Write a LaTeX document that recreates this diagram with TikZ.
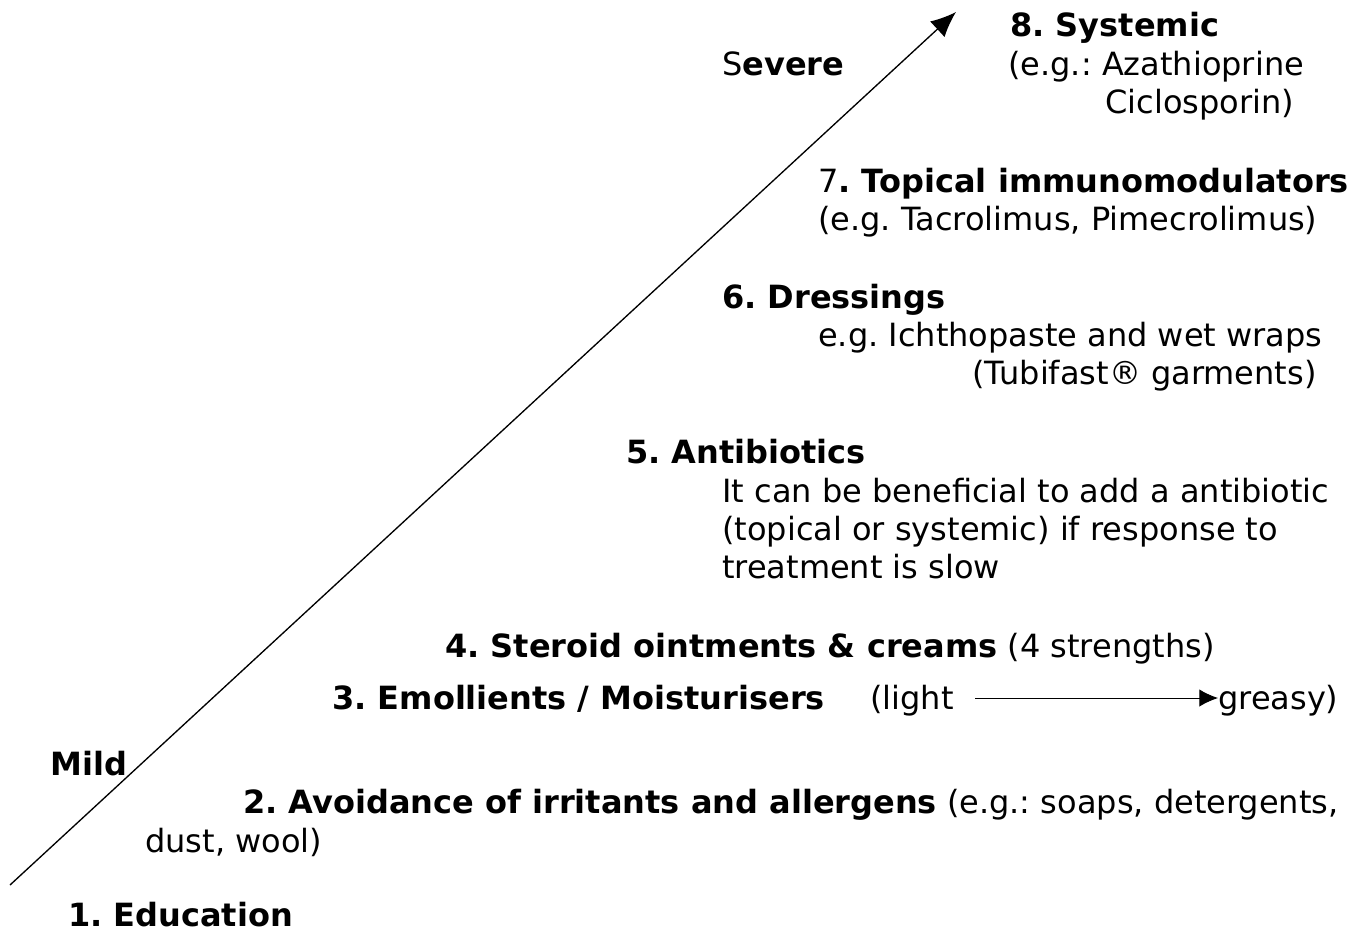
\documentclass[tikz,border=0pt]{standalone}
\usepackage{fontspec}
\setmainfont{DejaVu Sans}
\usetikzlibrary{arrows.meta}
\frenchspacing
\tikzset{
  txt/.style={anchor=base west, inner sep=0pt, font=\fontsize{24}{28}\selectfont},
}
\newcommand\steplabel[4]{%
  \node[txt] (#1) at (#2, #3) {#4}
}

\begin{document}
\begin{tikzpicture}[x=0.75pt, y=-0.75pt]
        \useasboundingbox (0,0) rectangle (1363,933);
        % The ladder
        \coordinate (lo) at (10, 885);
        \coordinate (hi) at (956, 12);
        \draw[line width=1pt, -{Latex[length=19pt,width=16pt]}] (lo) -- (hi);

        % Ends of the scale
        \steplabel{severe}{722}{75}{S\textbf{evere}};
        \steplabel{mild}{50}{775}{\textbf{Mild}};

        % Step 8
        \steplabel{sysA}{1010}{36}{\textbf{8. Systemic}};
        \steplabel{sysB}{1008}{75}{(e.g.: Azathioprine};
        \steplabel{sysC}{1105}{113}{Ciclosporin)};
        % Step 7
        \steplabel{topA}{818}{192}{7\textbf{. Topical immunomodulators}};
        \steplabel{topB}{818}{230}{(e.g. Tacrolimus, Pimecrolimus)};
        % Step 6
        \steplabel{dreA}{722}{308}{\textbf{6. Dressings}};
        \steplabel{dreB}{818}{346}{e.g. Ichthopaste and wet wraps};
        \steplabel{dreC}{972}{384}{(Tubifast® garments)};
        % Step 5
        \steplabel{antA}{626}{463}{\textbf{5. Antibiotics}};
        \steplabel{antB}{722}{502}{It can be beneficial to add a antibiotic};
        \steplabel{antC}{722}{540}{(topical or systemic) if response to};
        \steplabel{antD}{722}{578}{treatment is slow};
        % Step 4
        \steplabel{ster}{445}{657}{\textbf{4. Steroid ointments \& creams} (4 strengths)};
        % Step 3
        \steplabel{emol}{332}{709}{\textbf{3. Emollients / Moisturisers}};
        \steplabel{light}{870}{709}{(light};
        \steplabel{greasy}{1218}{709}{greasy)};
        \coordinate (lightend) at (975, 698);
        \draw[line width=0.7pt, -{Latex[length=14pt,width=13pt]}] (lightend) -- (lightend -| greasy.west);
        % Step 2
        \steplabel{avoA}{243}{813}{\textbf{2. Avoidance of irritants and allergens} (e.g.: soaps, detergents,};
        \steplabel{avoB}{145}{852}{dust, wool)};
        % Step 1
        \steplabel{edu}{68}{926}{\textbf{1. Education}};
\end{tikzpicture}
\end{document}
